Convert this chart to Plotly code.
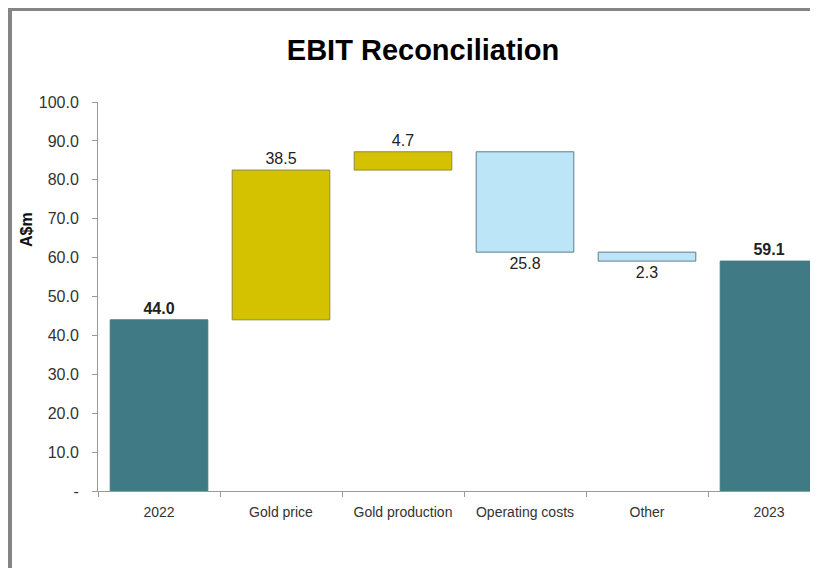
import plotly.graph_objects as go

categories = ["2022", "Gold price", "Gold production", "Operating costs", "Other", "2023"]
values = [44.0, 38.5, 4.7, -25.8, -2.3, 59.1]
measures = ["absolute", "relative", "relative", "relative", "relative", "total"]
labels = ["<b>44.0</b>", "38.5", "4.7", "25.8", "2.3", "<b>59.1</b>"]
y_tickvals = [0, 10, 20, 30, 40, 50, 60, 70, 80, 90, 100]
y_ticktext = ["-", "10.0", "20.0", "30.0", "40.0", "50.0", "60.0", "70.0", "80.0", "90.0", "100.0"]

# page is rendered with an 8px body margin; figure coords = page coords - 8
OFF = 8
W, H = 810, 560
L, R, T = 98 - OFF, 0, 102 - OFF
B = H - (491 - OFF)
pw, ph = W - L - R, H - T - B

def px_x(px):
    return (px - OFF - L) / pw

def px_y(py):
    return (H - B - (py - OFF)) / ph

FONT = "Liberation Sans, Arial, sans-serif"

fig = go.Figure(go.Waterfall(
    x=categories,
    y=values,
    measure=measures,
    text=labels,
    textposition="outside",
    textfont=dict(family=FONT, size=16, color="#222222"),
    cliponaxis=False,
    connector=dict(visible=False),
    increasing=dict(marker=dict(color="#D4C200", line=dict(color="#8C8A45", width=1))),
    decreasing=dict(marker=dict(color="#BDE5F8", line=dict(color="#5E7D8C", width=1))),
    totals=dict(marker=dict(color="#407A84", line=dict(color="#407A84", width=1))),
    hoverinfo="x+y",
))

fig.update_layout(
    width=W, height=H,
    margin=dict(l=L, r=R, t=T, b=B, pad=0),
    paper_bgcolor="white", plot_bgcolor="white",
    bargap=0.2,
    showlegend=False,
    title=dict(text="<b>EBIT Reconciliation</b>", x=(423 - OFF) / W, xref="container", xanchor="center",
               y=1 - (50 - OFF) / H, yref="container", yanchor="middle",
               font=dict(family=FONT, size=29, color="#000000")),
    xaxis=dict(
        type="category", range=[-0.5, -0.5 + pw / 122.0],
        showline=True, linecolor="#9A9A9A", linewidth=1,
        ticks="outside", tickson="boundaries", ticklen=5, tickcolor="#9A9A9A",
        tickfont=dict(family=FONT, size=14, color="#333333"),
        ticklabelstandoff=8,
        showgrid=False, zeroline=False,
    ),
    yaxis=dict(
        range=[0, 100], tickvals=y_tickvals, ticktext=y_ticktext,
        showline=True, linecolor="#9A9A9A", linewidth=1,
        ticks="outside", ticklen=5, tickcolor="#9A9A9A",
        tickfont=dict(family=FONT, size=16, color="#333333"),
        ticklabelstandoff=10,
        showgrid=False, zeroline=False,
    ),
    annotations=[dict(
        text="<b>A$m</b>", textangle=-90, showarrow=False,
        xref="paper", yref="paper", x=px_x(26), y=px_y(230),
        xanchor="center", yanchor="middle",
        font=dict(family=FONT, size=16, color="#111111"),
    )],
    shapes=[
        dict(type="line", xref="paper", yref="paper", x0=px_x(8), x1=px_x(830),
             y0=px_y(9), y1=px_y(9), line=dict(color="#858585", width=4)),
        dict(type="line", xref="paper", yref="paper", x0=px_x(10), x1=px_x(10),
             y0=px_y(7), y1=px_y(600), line=dict(color="#858585", width=4)),
    ],
)

fig.write_html("out.html")
